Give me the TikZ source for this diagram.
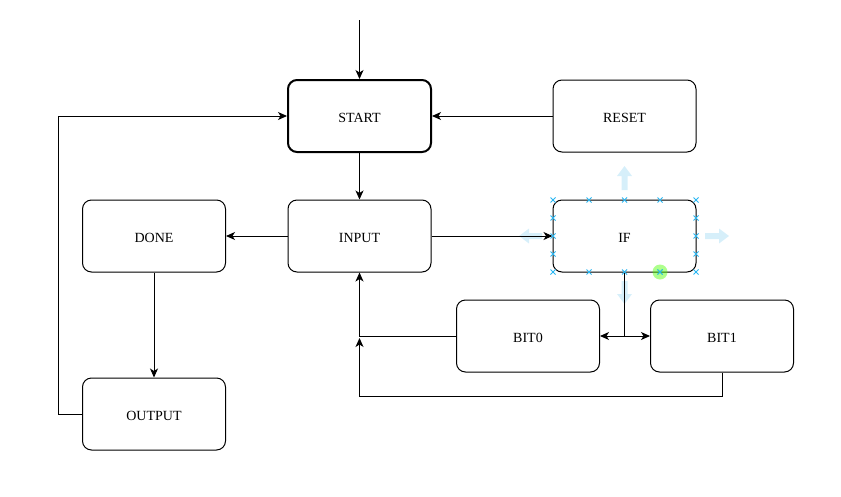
\documentclass[tikz,border=0pt]{standalone}
\usepackage{fontspec}
\setmainfont{Liberation Serif}
\usetikzlibrary{arrows.meta}
\definecolor{hdl}{HTML}{29B6F2}
\definecolor{hdlarrow}{HTML}{D6EFFA}
\tikzset{
  box/.style={draw=black, line width=1pt, rounded corners=9pt, minimum width=143pt, minimum height=72pt, font=\fontsize{14}{16}\selectfont, fill=white, inner sep=0pt, text height=12.5pt, text depth=0pt},
  thickbox/.style={box, line width=2pt},
  conn/.style={line width=1pt, -{Stealth[length=9pt,width=8pt,inset=2.5pt]}},
  plain/.style={line width=1pt},
  handle/.style={hdl, line width=0.8pt},
  bigarrow/.style={draw=none, fill=hdlarrow}
}
\newcommand{\hmark}[2]{\draw[handle] (#1-2.5,#2-2.5) -- (#1+2.5,#2+2.5) (#1-2.5,#2+2.5) -- (#1+2.5,#2-2.5);}
\begin{document}
\begin{tikzpicture}[x=1pt,y=-1pt]
\useasboundingbox (0,0) rectangle (841,496);
% handle arrows (behind)
\fill[bigarrow] (624.5,166) -- (632,176) -- (627.5,176) -- (627.5,190) -- (621.5,190) -- (621.5,176) -- (617,176) -- cycle;
\fill[bigarrow] (624.5,304) -- (632,294) -- (627.5,294) -- (627.5,281) -- (621.5,281) -- (621.5,294) -- (617,294) -- cycle;
\fill[bigarrow] (519,236) -- (529,228.5) -- (529,233) -- (542,233) -- (542,239) -- (529,239) -- (529,243.5) -- cycle;
\fill[bigarrow] (729,236) -- (719,228.5) -- (719,233) -- (705,233) -- (705,239) -- (719,239) -- (719,243.5) -- cycle;

\node[thickbox] (start) at (359.5,116) {START};
\node[box] (reset) at (624.5,116) {RESET};
\node[box] (input) at (359.5,236) {INPUT};
\node[box] (done) at (154,236) {DONE};
\node[box] (if) at (624.5,236) {IF};
\node[box] (bit0) at (528,336) {BIT0};
\node[box] (bit1) at (722,336) {BIT1};
\node[box] (output) at (154,414) {OUTPUT};

\coordinate (top) at (359.5,20);
\coordinate (split) at (624.5,336);
\coordinate (merge) at (359.5,338);

\draw[conn] (top) -- (start.north);
\draw[conn] (reset.west) -- (start.east);
\draw[conn] (start.south) -- (input.north);
\draw[conn] (input.west) -- (done.east);
\draw[conn] (input.east) -- (if.west);
\draw[conn] (done.south) -- (output.north);
\draw[conn] (output.west) -- (58,414) -- (58,116) -- (start.west);
\draw[plain] (if.south) -- (split);
\draw[conn] (split) -- (bit0.east);
\draw[conn] (split) -- (bit1.west);
\draw[conn] (bit0.west) -| (input.south);
\draw[conn] (bit1.south) -- (722,396) -- (359.5,396) -- (merge);

% selection handles on IF
\foreach \xx in {553,589,624.5,660,696} {\hmark{\xx}{200}\hmark{\xx}{272}}
\foreach \yy in {218,236,254} {\hmark{553}{\yy}\hmark{696}{\yy}}
\fill[green!60!lime, opacity=0.45] (660,272) circle (7.5);
\hmark{660}{272}
\end{tikzpicture}
\end{document}
